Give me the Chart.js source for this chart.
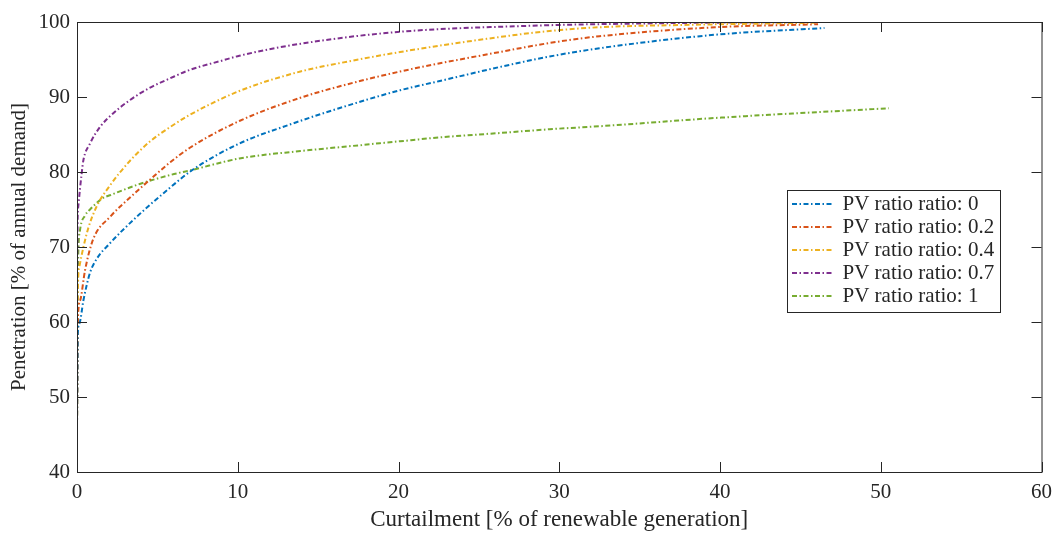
<!DOCTYPE html>
<html>
<head>
<meta charset="utf-8">
<title>Penetration vs curtailment</title>
<script src="https://cdn.jsdelivr.net/npm/chart.js@4.4.1/dist/chart.umd.min.js"></script>
<style>
  html, body { margin: 0; padding: 0; background: #fff; }
  #wrap { width: 1060px; height: 534px; }
</style>
</head>
<body>
<div id="wrap"><canvas id="curtChart"></canvas></div>
<script>
// --- data ---
const seriesLabels = ['PV ratio ratio: 0', 'PV ratio ratio: 0.2', 'PV ratio ratio: 0.4', 'PV ratio ratio: 0.7', 'PV ratio ratio: 1'];
const seriesColors = ['#0072BD', '#D95319', '#EDB120', '#7E2F8E', '#77AC30'];

// curtailment [% of renewable generation]
const curt0 = [0, 0.05, 0.15, 0.4, 0.8, 1.22, 2.05, 3.7, 5.4, 7.2, 10.1, 13.2, 16.3, 20.1, 22.5, 26.3, 29.4, 32.5, 39.7, 46.5];
const curt02 = [0, 0.05, 0.2, 0.5, 1.0, 2.05, 3.3, 4.5, 5.8, 7.0, 10.1, 13.9, 16.3, 20.1, 26.3, 29.4, 32.5, 39.7, 46.1];
const curt04 = [0, 0.05, 0.15, 0.4, 0.7, 1.22, 2.05, 3.3, 4.5, 5.8, 7.0, 10.1, 13.9, 16.3, 20.1, 26.3, 29.4, 32.5, 37.6, 45.9];
const curt07 = [0, 0.02, 0.08, 0.29, 0.4, 0.81, 1.43, 2.24, 3.3, 4.5, 5.8, 7.0, 9.1, 10.1, 13.9, 20.1, 28.3, 35.0, 45.5];
const curt1 = [0, 0.05, 0.19, 0.5, 0.81, 1.6, 2.05, 3.9, 5.8, 7.2, 10.1, 13.9, 16.3, 20.1, 22.5, 26.3, 29.4, 32.5, 39.7, 50.5];

// penetration [% of annual demand]
const pen0 = [46, 58.5, 59.8, 62.9, 66.5, 68.4, 70.5, 74.0, 77.2, 80.3, 83.8, 86.3, 88.5, 90.9, 92.1, 94.0, 95.4, 96.5, 98.3, 99.2];
const pen02 = [46, 60, 62.9, 66.9, 71.0, 74.0, 76.6, 78.9, 81.3, 83.2, 86.8, 89.9, 91.4, 93.4, 96.0, 97.2, 98.1, 99.3, 99.7];
const pen04 = [46, 64, 67.4, 70.0, 72.5, 75.4, 78.2, 81.5, 84.0, 86.0, 87.6, 90.8, 93.4, 94.5, 96.0, 98.0, 98.8, 99.3, 99.6, 99.9];
const pen07 = [46, 70, 75.4, 79.8, 81.6, 83.8, 86.0, 87.8, 89.6, 91.2, 92.5, 93.6, 94.9, 95.5, 97.1, 98.7, 99.5, 99.8, 100];
const pen1 = [46, 66, 72.3, 74.2, 75.0, 76.5, 76.9, 78.4, 79.6, 80.3, 81.8, 82.8, 83.3, 84.1, 84.6, 85.2, 85.7, 86.1, 87.2, 88.5];

const xTicks = [0, 10, 20, 30, 40, 50, 60];
const yTicks = [40, 50, 60, 70, 80, 90, 100];

const seriesX = [curt0, curt02, curt04, curt07, curt1];
const seriesY = [pen0, pen02, pen04, pen07, pen1];

// --- chart setup ---
const serif = "'Liberation Serif', 'Times New Roman', serif";
const ink = '#262626';
const dashDot = [5, 2.5, 1.5, 2.5];

// MATLAB-like box with inward ticks on all four sides
const boxTicks = {
    id: 'boxTicks',
    afterDraw(chart) {
        const { ctx, chartArea: a, scales } = chart;
        const len = 10;
        ctx.save();
        ctx.strokeStyle = ink;
        ctx.lineWidth = 1;
        ctx.strokeRect(a.left + 0.5, a.top + 0.5, a.right - a.left, a.bottom - a.top);
        ctx.beginPath();
        scales.x.ticks.forEach(t => {
            const px = Math.round(scales.x.getPixelForValue(t.value)) + 0.5;
            ctx.moveTo(px, a.bottom); ctx.lineTo(px, a.bottom - len);
            ctx.moveTo(px, a.top); ctx.lineTo(px, a.top + len);
        });
        scales.y.ticks.forEach(t => {
            const py = Math.round(scales.y.getPixelForValue(t.value)) + 0.5;
            ctx.moveTo(a.left, py); ctx.lineTo(a.left + len, py);
            ctx.moveTo(a.right, py); ctx.lineTo(a.right - len, py);
        });
        ctx.stroke();
        ctx.restore();
    }
};

// put the legend inside the axes, right side, with a frame
const legendBox = {
    id: 'legendBox',
    afterUpdate(chart) {
        const lg = chart.legend;
        lg.left = 790; lg.top = 191.5; lg.right = 1000; lg.bottom = 470;
    },
    afterDraw(chart) {
        const { ctx } = chart;
        ctx.save();
        ctx.strokeStyle = ink;
        ctx.lineWidth = 1;
        ctx.strokeRect(787.5, 190.5, 213, 122);
        ctx.restore();
    }
};

const datasets = seriesLabels.map((label, i) => ({
    label,
    data: seriesX[i].map((x, j) => ({ x, y: seriesY[i][j] })),
    borderColor: seriesColors[i],
    backgroundColor: seriesColors[i],
    borderWidth: 2,
    borderDash: dashDot,
    showLine: true,
    pointRadius: 0,
    pointStyle: 'line',
    cubicInterpolationMode: 'monotone'
}));

new Chart(document.getElementById('curtChart'), {
    type: 'scatter',
    data: { datasets },
    options: {
        responsive: true,
        maintainAspectRatio: false,
        animation: false,
        layout: { padding: { top: 22, right: 17, bottom: 0, left: 0 } },
        plugins: {
            tooltip: { enabled: false },
            legend: {
                position: 'chartArea',
                align: 'start',
                labels: {
                    usePointStyle: true,
                    pointStyle: 'line',
                    pointStyleWidth: 40,
                    padding: 2,
                    color: ink,
                    font: { family: serif, size: 21 },
                    // point-style items lose the dash, so copy it from the dataset
                    generateLabels: chart => Chart.defaults.plugins.legend.labels.generateLabels(chart)
                        .map(item => {
                            const ds = chart.data.datasets[item.datasetIndex];
                            return { ...item, lineDash: ds.borderDash, lineWidth: ds.borderWidth, strokeStyle: ds.borderColor };
                        })
                }
            }
        },
        scales: {
            x: {
                type: 'linear',
                min: xTicks[0],
                max: xTicks[xTicks.length - 1],
                afterBuildTicks: s => { s.ticks = xTicks.map(v => ({ value: v })); },
                afterFit: s => { s.height = 62; },
                grid: { display: false, drawTicks: false },
                border: { display: false },
                ticks: { color: ink, padding: 8, font: { family: serif, size: 21 } },
                title: {
                    display: true,
                    text: 'Curtailment [% of renewable generation]',
                    color: ink,
                    padding: { top: 0, bottom: 0 },
                    font: { family: serif, size: 23 }
                }
            },
            y: {
                type: 'linear',
                min: yTicks[0],
                max: yTicks[yTicks.length - 1],
                afterBuildTicks: s => { s.ticks = yTicks.map(v => ({ value: v })); },
                afterFit: s => { s.width = 77; },
                grid: { display: false, drawTicks: false },
                border: { display: false },
                ticks: { color: ink, padding: 7, font: { family: serif, size: 21 } },
                title: {
                    display: true,
                    text: 'Penetration [% of annual demand]',
                    color: ink,
                    padding: { top: 7, bottom: 0 },
                    font: { family: serif, size: 21 }
                }
            }
        }
    },
    plugins: [boxTicks, legendBox]
});
</script>
</body>
</html>
